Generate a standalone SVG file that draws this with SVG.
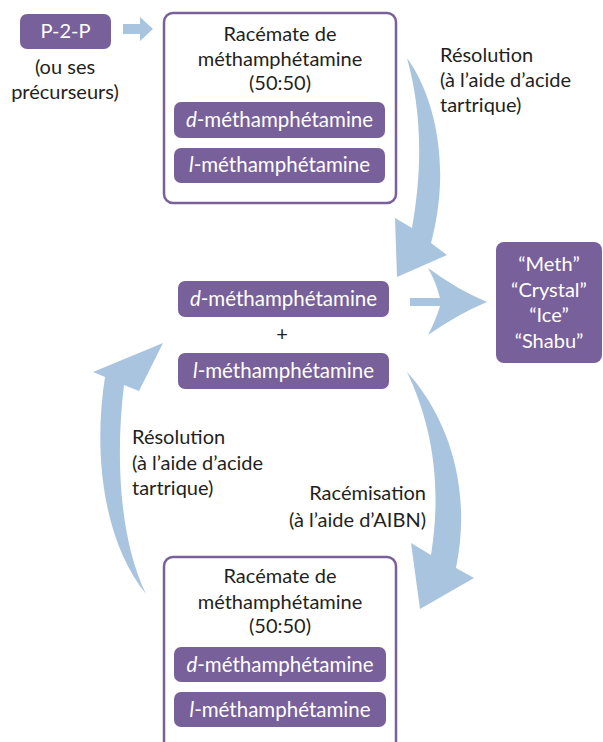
<svg xmlns="http://www.w3.org/2000/svg" width="603" height="742" viewBox="0 0 603 742">
<defs>
<style>
text{font-family:Lato,"Liberation Sans",sans-serif;}
.lbl{fill:#231f20;font-size:20px;}
.c{text-anchor:middle;}
.w{fill:#ffffff;font-size:20.5px;text-anchor:middle;}
.s{fill:#ffffff;font-size:20px;text-anchor:middle;}
.pill{fill:#78609b;}
.frame{fill:#ffffff;stroke:#78609b;stroke-width:2.5;}
.arr{fill:#a9c4de;}
</style>
</defs>
<rect width="603" height="742" fill="#ffffff"/>
<g id="connectors">
<path class="arr" d="M123,24 L140,24 L140,17 L153,29 L140,41 L140,34 L123,34 Z"/>
<path class="arr" d="M407,58 C434,95 452,165 431,243 L447,255 L397,277 L395,218 L412,228 C424,160 420,105 407,58 Z"/>
<path class="arr" d="M410,298 L440,298 Q436,282 428,268 Q458,290 487,302 Q458,314 428,335 Q436,320 440,306 L410,306 Z"/>
<path class="arr" d="M407,372 C442,410 474,480 456,568 L474,578 L420,609 L411,543 L431,555 C443,480 430,420 407,372 Z"/>
<path class="arr" d="M146,594 C106,545 92,460 105,377 L93,372 L163,343 L139,391 L124,385 C115,460 120,540 146,594 Z"/>
</g>
<g id="p2p">
<rect class="pill" x="20" y="14" width="91" height="35" rx="7"/>
<text class="s" x="65.5" y="38">P-2-P</text>
<text class="lbl c" x="65" y="74">(ou ses</text>
<text class="lbl c" x="65" y="99">précurseurs)</text>
</g>
<g id="racemate-top">
<rect class="frame" x="164" y="13" width="232" height="190" rx="9"/>
<text class="lbl c" x="280" y="41">Racémate de</text>
<text class="lbl c" x="280" y="66">méthamphétamine</text>
<text class="lbl c" x="280" y="90">(50:50)</text>
<rect class="pill" x="174" y="102" width="211" height="36" rx="7"/>
<text class="w" x="279.5" y="127"><tspan font-style="italic">d</tspan>-méthamphétamine</text>
<rect class="pill" x="174" y="148" width="211" height="35" rx="7"/>
<text class="w" x="279.5" y="172"><tspan font-style="italic">l</tspan>-méthamphétamine</text>
</g>
<g id="label-resolution-top">
<text class="lbl" x="440" y="62">Résolution</text>
<text class="lbl" x="440" y="87">(à l’aide d’acide</text>
<text class="lbl" x="440" y="112">tartrique)</text>
</g>
<g id="mixture">
<rect class="pill" x="178" y="281" width="211" height="36" rx="7"/>
<text class="w" x="283.5" y="306"><tspan font-style="italic">d</tspan>-méthamphétamine</text>
<text class="lbl c" x="282" y="341">+</text>
<rect class="pill" x="178" y="353" width="211" height="36" rx="7"/>
<text class="w" x="283.5" y="378"><tspan font-style="italic">l</tspan>-méthamphétamine</text>
</g>
<g id="street-names">
<rect class="pill" x="496" y="242" width="106" height="121" rx="8"/>
<text class="s" x="549" y="271">“Meth”</text>
<text class="s" x="549" y="296.5">“Crystal”</text>
<text class="s" x="549" y="322">“Ice”</text>
<text class="s" x="549" y="347.5">“Shabu”</text>
</g>
<g id="label-resolution-left">
<text class="lbl" x="132" y="444">Résolution</text>
<text class="lbl" x="132" y="470">(à l’aide d’acide</text>
<text class="lbl" x="132" y="495">tartrique)</text>
</g>
<g id="label-racemisation">
<text class="lbl" x="426" y="500" text-anchor="end">Racémisation</text>
<text class="lbl" x="426" y="527" text-anchor="end">(à l’aide d’AIBN)</text>
</g>
<g id="racemate-bottom">
<rect class="frame" x="164" y="557" width="232" height="200" rx="9"/>
<text class="lbl c" x="280" y="583">Racémate de</text>
<text class="lbl c" x="280" y="609">méthamphétamine</text>
<text class="lbl c" x="280" y="633">(50:50)</text>
<rect class="pill" x="174" y="647" width="212" height="35" rx="7"/>
<text class="w" x="280" y="672"><tspan font-style="italic">d</tspan>-méthamphétamine</text>
<rect class="pill" x="174" y="692" width="212" height="35" rx="7"/>
<text class="w" x="280" y="717"><tspan font-style="italic">l</tspan>-méthamphétamine</text>
</g>
</svg>
